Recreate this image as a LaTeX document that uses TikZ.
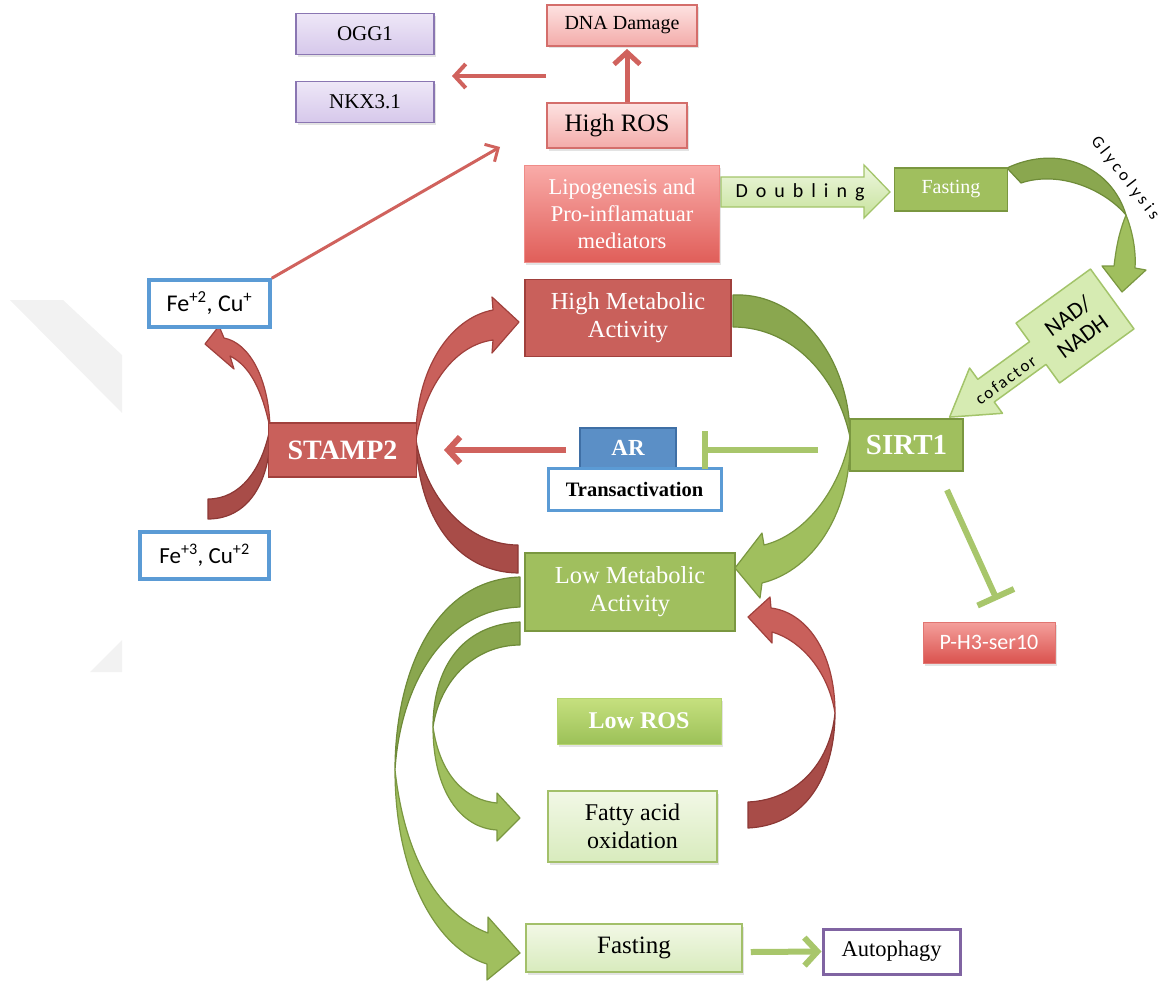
\documentclass[tikz,border=0pt]{standalone}
\usepackage{fontspec}
\setmainfont{Liberation Serif}
\newfontfamily\carl{Carlito}
\usetikzlibrary{arrows.meta,shadows,calc}

\definecolor{redA}{HTML}{C9605B}
\definecolor{redB}{HTML}{A0403C}
\definecolor{redDk}{HTML}{A84C48}
\definecolor{redDkB}{HTML}{8C3835}
\definecolor{grA}{HTML}{A0BF5E}
\definecolor{grB}{HTML}{7A9740}
\definecolor{grDk}{HTML}{8AA74F}
\definecolor{grDkB}{HTML}{6E8B38}
\definecolor{lnRed}{HTML}{D0625D}
\definecolor{lnGr}{HTML}{A8C66B}
\definecolor{blueB}{HTML}{5B9BD5}
\definecolor{arF}{HTML}{5B8FC6}
\definecolor{arB}{HTML}{3F6FA5}
\definecolor{purB}{HTML}{8A76B2}
\definecolor{purT}{HTML}{EEE7F7}
\definecolor{purBt}{HTML}{D6C8EB}
\definecolor{pinkT}{HTML}{FDE2E1}
\definecolor{pinkBt}{HTML}{F3ABA9}
\definecolor{pinkB}{HTML}{D46E6B}
\definecolor{lipT}{HTML}{F9ABA8}
\definecolor{lipBt}{HTML}{E05E59}
\definecolor{phT}{HTML}{F4A09C}
\definecolor{phBt}{HTML}{DA524E}
\definecolor{lgT}{HTML}{F2F8E6}
\definecolor{lgBt}{HTML}{D8EBBD}
\definecolor{lgB}{HTML}{A3C06A}
\definecolor{lrT}{HTML}{C6E07F}
\definecolor{lrBt}{HTML}{9CC158}
\definecolor{nadF}{HTML}{D6EBB2}
\definecolor{nadB}{HTML}{A3C46A}
\definecolor{dbT}{HTML}{EEF7DF}
\definecolor{dbBt}{HTML}{C7E29C}
\definecolor{autB}{HTML}{8064A2}

\begin{document}
\begin{tikzpicture}[x=1pt,y=-1pt,
  box/.style={draw, line width=1.8pt, inner sep=0pt, align=center, text=white},
  sz/.style 2 args={minimum width=#1pt, minimum height=#2pt},
  dsh/.style={drop shadow={shadow xshift=1.5pt,shadow yshift=-2.5pt,opacity=.22}},
  ribR/.style={fill=redA, draw=redB, line width=1.2pt, line join=round},
  ribRd/.style={fill=redDk, draw=redDkB, line width=1.2pt, line join=round},
  ribG/.style={fill=grA, draw=grB, line width=1.2pt, line join=round},
  ribGd/.style={fill=grDk, draw=grDkB, line width=1.2pt, line join=round},
  redarr/.style={draw=lnRed, line width=#1, -{Straight Barb[length=12pt,width=26pt]}},
  inh/.style={draw=lnGr, line width=6pt, -{Bar[width=#1]}}
]
\useasboundingbox (0,0) rectangle (1174,982);

% faint background marks
\fill[black!5] (10,300) -- (63,300) -- (122,355) -- (122,413) -- cycle;
\fill[black!5] (90,672) -- (122,640) -- (122,672) -- cycle;

% ---------- curved ribbon arrows ----------
% left: Fe3 -> Fe2
\path[ribRd] (208,499) -- (208,519) .. controls (252,519) and (272,475) .. (270,428)
   .. controls (262,470) and (240,499) .. (208,499) -- cycle;
\path[ribR] (270,428) .. controls (269,380) and (250,343) .. (224,338) -- (219,326) -- (205,344)
   -- (234,369) -- (230,356) .. controls (250,366) and (262,390) .. (270,428) -- cycle;
% right of STAMP2: Low Met -> High Met
\path[ribRd] (518,545) -- (518,573) .. controls (455,572) and (418,515) .. (416,440)
   .. controls (425,495) and (465,545) .. (518,545) -- cycle;
\path[ribR] (416,440) .. controls (415,370) and (450,318) .. (493,310) -- (492,297) -- (519,322)
   -- (492,353) -- (493,340) .. controls (455,345) and (425,385) .. (416,440) -- cycle;
% big green: High Met -> Low Met
\path[ribGd] (733,295) .. controls (800,292) and (850,360) .. (850,437)
   .. controls (838,380) and (795,327) .. (733,327) -- cycle;
\path[ribG] (850,437) .. controls (852,510) and (815,570) .. (762,583) -- (760,598) -- (735,568)
   -- (762,533) -- (764,545) .. controls (805,535) and (840,490) .. (850,437) -- cycle;
% outer green: Low Met -> Fasting
\path[ribGd] (520,577) .. controls (430,580) and (395,680) .. (395,770)
   .. controls (400,690) and (440,610) .. (520,607) -- cycle;
\path[ribG] (395,770) .. controls (395,880) and (440,950) .. (487,964) -- (487,980) -- (520,953)
   -- (488,917) -- (488,933) .. controls (440,915) and (405,860) .. (395,770) -- cycle;
% inner green: Low Met -> Fatty acid
\path[ribGd] (520,622) .. controls (460,625) and (433,670) .. (433,727)
   .. controls (440,680) and (475,645) .. (520,645) -- cycle;
\path[ribG] (433,727) .. controls (433,790) and (460,828) .. (497,830) -- (497,841) -- (520,818)
   -- (497,793) -- (497,803) .. controls (465,800) and (440,775) .. (433,727) -- cycle;
% red: Fatty acid -> Low Met
\path[ribRd] (748,828) .. controls (810,825) and (835,770) .. (835,713)
   .. controls (830,765) and (795,800) .. (748,802) -- cycle;
\path[ribR] (835,713) .. controls (835,650) and (805,612) .. (771,608) -- (770,597) -- (748,617)
   -- (772,643) -- (772,632) .. controls (800,640) and (828,670) .. (835,713) -- cycle;
% glycolysis
\path[ribGd] (1007,168) .. controls (1060,143) and (1112,168) .. (1126,215)
   .. controls (1105,190) and (1060,170) .. (1021,183) -- cycle;
\path[ribG] (1126,215) .. controls (1134,235) and (1136,255) .. (1135,268) -- (1146,270) -- (1122,292)
   -- (1102,266) -- (1114,266) .. controls (1116,250) and (1118,235) .. (1126,215) -- cycle;
\node[rotate=-52, font=\carl\fontsize{17}{20}\selectfont\addfontfeature{LetterSpace=22}] (gly) at (1125,178) {Glycolysis};

% Doubling block arrow
\path[draw=nadB, line width=1.3pt, top color=dbT, bottom color=dbBt]
  (721,177) -- (864,177) -- (864,165) -- (890,192) -- (864,218) -- (864,207) -- (721,207) -- cycle;
\node[font=\carl\fontsize{20}{22}\selectfont\addfontfeature{LetterSpace=40}] (dbl) at (800,192) {Doubling};

% NAD/NADH callout arrow
\begin{scope}[shift={(1075,326)}, rotate=36]
  \path[fill=nadF, draw=nadB, line width=1.5pt, line join=round]
    (46,-37) -- (46,37) -- (-46,37) -- (-46,14) -- (-110,14) -- (-110,28) -- (-155,0)
    -- (-110,-28) -- (-110,-14) -- (-46,-14) -- (-46,-37) -- cycle;
  \node[rotate=36, font=\carl\fontsize{23}{25}\selectfont, align=center, inner sep=0pt] (nad) at (0,0) {NAD/\\NADH};
  \node[rotate=36, font=\carl\fontsize{17}{20}\selectfont\addfontfeature{LetterSpace=12}, inner sep=0pt] (cof) at (-88,3) {cofactor};
\end{scope}

% ---------- boxes ----------
\node[box, sz={138}{41}, draw=purB, top color=purT, bottom color=purBt, text=black, dsh,
      font=\fontsize{21}{24}\selectfont] (ogg) at (365,34) {OGG1};
\node[box, sz={138}{41}, draw=purB, top color=purT, bottom color=purBt, text=black, dsh,
      font=\fontsize{21}{24}\selectfont] (nkx) at (365,102) {NKX3.1};
\node[box, sz={150}{41}, draw=pinkB, top color=pinkT, bottom color=pinkBt, text=black, dsh,
      font=\fontsize{20}{24}\selectfont] (dna) at (622,25.5) {DNA Damage};
\node[box, sz={140}{45}, draw=pinkB, top color=pinkT, bottom color=pinkBt, text=black, dsh,
      font=\fontsize{25}{28}\selectfont] (hros) at (617,125.5) {High ROS};
\node[box, sz={195}{97}, draw=lipT!60!lipBt, line width=1pt, top color=lipT, bottom color=lipBt, dsh,
      font=\fontsize{22.5}{27}\selectfont] (lipo) at (622,214) {Lipogenesis and\\Pro-inflamatuar\\mediators};
\node[box, sz={113}{43}, draw=grB, fill=grA,
      font=\fontsize{20}{24}\selectfont] (fast1) at (951,189.5) {Fasting};
\node[box, sz={206}{77}, draw=redB, fill=redA,
      font=\fontsize{24.5}{28}\selectfont] (hma) at (628,318) {High Metabolic\\Activity};
\node[box, sz={148}{54}, draw=redB, fill=redA,
      font=\bfseries\fontsize{28}{32}\selectfont] (stamp) at (342.5,450) {STAMP2};
\node[box, sz={96}{40}, draw=arB, fill=arF,
      font=\bfseries\fontsize{23}{26}\selectfont] (ar) at (628,448) {AR};
\node[box, sz={173}{42}, draw=blueB, fill=white, text=black, line width=3pt,
      font=\bfseries\fontsize{20.5}{22}\selectfont] (trans) at (634.5,489) {Transactivation};
\node[box, sz={113}{52}, draw=grB, fill=grA,
      font=\bfseries\fontsize{29}{30}\selectfont] (sirt) at (906.5,445) {SIRT1};
\node[box, sz={121}{47}, draw=blueB, fill=white, text=black, line width=3.5pt,
      font=\carl\fontsize{24}{26}\selectfont] (fe2) at (209.5,303.5) {Fe\textsuperscript{+2}, Cu\textsuperscript{+}};
\node[box, sz={129}{47}, draw=blueB, fill=white, text=black, line width=3.5pt,
      font=\carl\fontsize{23}{26}\selectfont] (fe3) at (204.5,555.5) {Fe\textsuperscript{+3}, Cu\textsuperscript{+2}};
\node[box, sz={210}{78}, draw=grB, fill=grA,
      font=\fontsize{24.5}{28}\selectfont] (lma) at (630,592) {Low Metabolic\\Activity};
\node[box, sz={132}{41}, draw=phBt!80!white, line width=1pt, top color=phT, bottom color=phBt, dsh,
      font=\carl\fontsize{22}{24}\selectfont] (ph3) at (989,642.5) {P-H3-ser10};
\node[box, sz={164}{46}, draw=lrT!60!lrBt, line width=1pt, top color=lrT, bottom color=lrBt, dsh,
      font=\bfseries\fontsize{24}{28}\selectfont] (lros) at (639,721) {Low ROS};
\node[box, sz={169}{71}, draw=lgB, line width=1.5pt, top color=lgT, bottom color=lgBt, text=black, dsh,
      font=\fontsize{24}{28}\selectfont] (fatty) at (632.5,826.5) {Fatty acid\\oxidation};
\node[box, sz={216}{48}, draw=lgB, line width=1.5pt, top color=lgT, bottom color=lgBt, text=black, dsh,
      font=\fontsize{25}{28}\selectfont] (fast2) at (634,948) {Fasting};
\node[box, sz={137}{45}, draw=autB, fill=white, text=black, line width=3pt,
      font=\fontsize{22.5}{26}\selectfont] (auto) at (891.5,951.5) {Autophagy};

% ---------- straight connectors ----------
\coordinate (rosL) at (546,76);
\coordinate (oggR) at (452,76);
\coordinate (roshead) at (500,147);
\coordinate (arL) at (566,450);
\coordinate (stR) at (444,450);
\coordinate (sirL) at (818,450);
\coordinate (arBar) at (702,450);
\coordinate (sirB) at (947,490);
\coordinate (phBar) at (997,600);

\draw[redarr=5pt] ($(hros.north)+(10,0)$) -- ($(dna.south)+(5,2)$);
\draw[draw=lnRed, line width=4pt, -{Straight Barb[length=11pt,width=24pt]}] (rosL) -- (oggR);
\draw[draw=lnRed, line width=3pt, -{Straight Barb[length=10pt,width=20pt]}] (fe2.north east) -- (roshead);
\draw[redarr=6pt] (arL) -- (stR);
\draw[inh=38pt] (sirL) -- (arBar);
\draw[inh=40pt] (sirB) -- (phBar);
\draw[draw=lnGr, line width=6pt, -{Straight Barb[length=13pt,width=28pt]}] ($(fast2.east)+(8,4)$) -- (auto.west);

\end{tikzpicture}
\end{document}
